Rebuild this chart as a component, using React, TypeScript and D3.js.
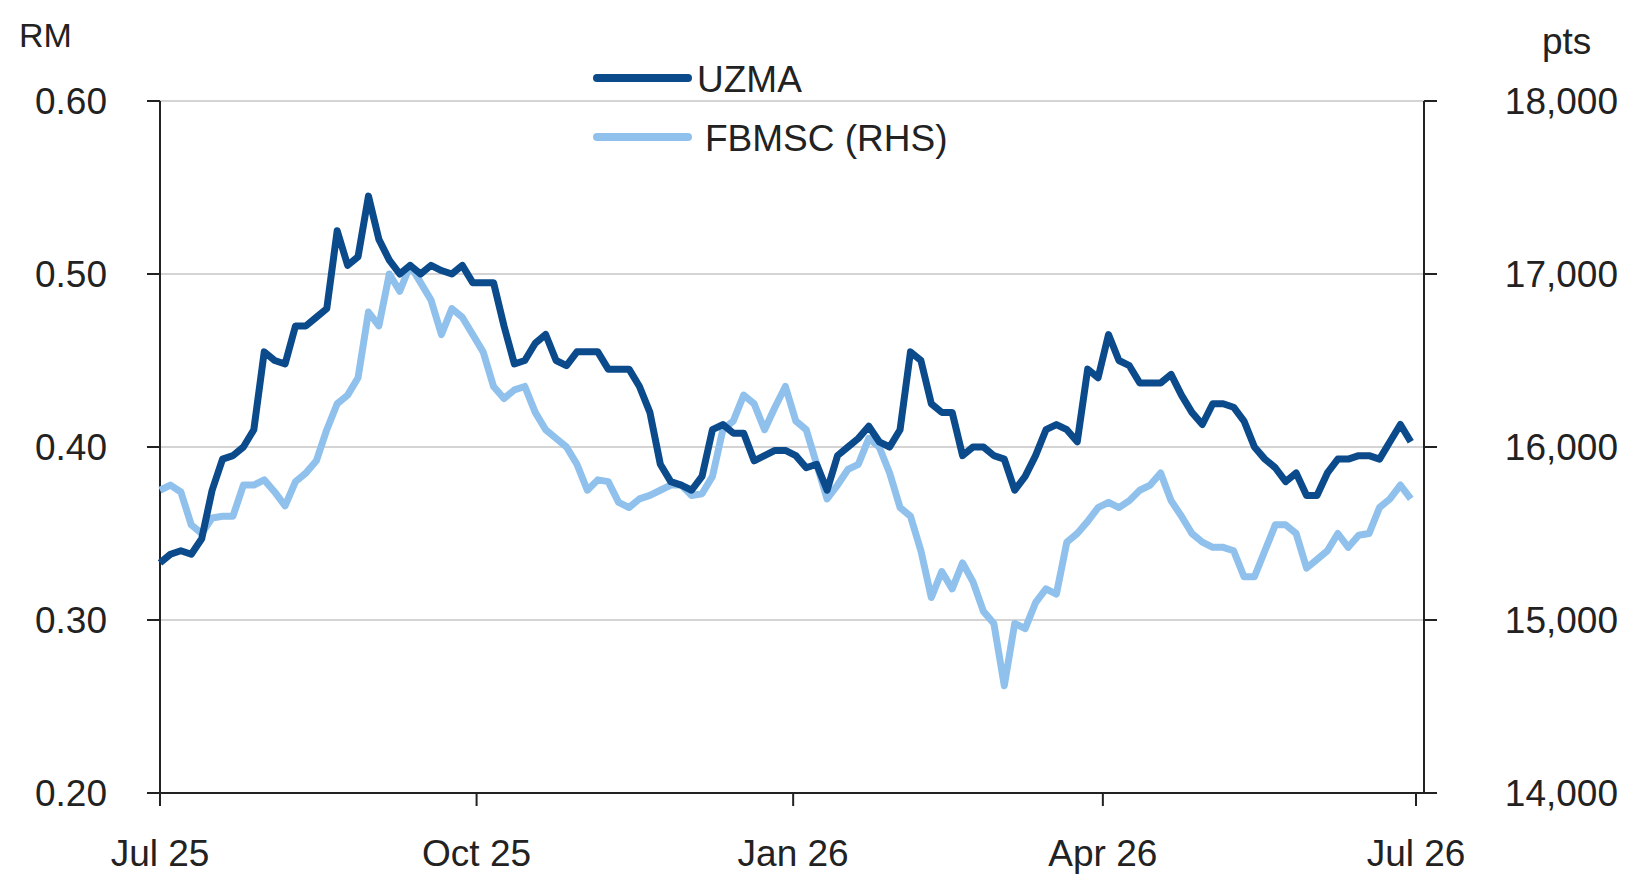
import React from "react";
import * as d3 from "d3";

const uzma = [.333,.338,.340,.338,.347,.375,.393,.395,.400,.410,.455,.450,.448,.470,.470,.475,.480,.525,.505,.510,.545,.520,.508,.500,.505,.500,.505,.502,.500,.505,.495,.495,.495,.470,.448,.450,.460,.465,.450,.447,.455,.455,.455,.445,.445,.445,.435,.420,.390,.380,.378,.375,.383,.410,.413,.408,.408,.392,.395,.398,.398,.395,.388,.390,.375,.395,.400,.405,.412,.403,.400,.410,.455,.450,.425,.420,.420,.395,.400,.400,.395,.393,.375,.383,.395,.410,.413,.410,.403,.445,.440,.465,.450,.447,.437,.437,.437,.442,.430,.420,.413,.425,.425,.423,.415,.400,.393,.388,.380,.385,.372,.372,.385,.393,.393,.395,.395,.393,.403,.413,.403];
const fbmsc = [15750,15780,15740,15550,15500,15590,15600,15600,15780,15780,15810,15740,15660,15800,15850,15920,16100,16250,16300,16400,16780,16700,17000,16900,17050,16950,16850,16650,16800,16750,16650,16550,16350,16280,16330,16350,16200,16100,16050,16000,15900,15750,15810,15800,15680,15650,15700,15720,15750,15780,15780,15720,15730,15830,16100,16150,16300,16250,16100,16230,16350,16150,16100,15900,15700,15780,15870,15900,16050,16000,15850,15650,15600,15400,15130,15280,15180,15330,15220,15050,14980,14620,14980,14950,15100,15180,15150,15450,15500,15570,15650,15680,15650,15690,15750,15780,15850,15690,15600,15500,15450,15420,15420,15400,15250,15250,15400,15550,15550,15500,15300,15350,15400,15500,15420,15490,15500,15650,15700,15780,15700];
const leftTicks = [0.2, 0.3, 0.4, 0.5, 0.6];
const rightTicks = [14000, 15000, 16000, 17000, 18000];
const xTickLabels = ["Jul 25", "Oct 25", "Jan 26", "Apr 26", "Jul 26"];
const xTickDates = [new Date(2025, 6, 1), new Date(2025, 9, 1), new Date(2026, 0, 1), new Date(2026, 3, 1), new Date(2026, 6, 1)];

const start = new Date(2025, 6, 1);
const stepDays = 365 * 10 / 1205;
const dateAt = (i: number) => new Date(start.getTime() + i * stepDays * 86400000);

export default function App() {
  const L = 160, R = 1424, T = 101, B = 793;
  const x = d3.scaleTime().domain([start, new Date(2026, 6, 1)]).range([L, 1416]);
  const yl = d3.scaleLinear().domain([0.2, 0.6]).range([B, T]);
  const yr = d3.scaleLinear().domain([14000, 18000]).range([B, T]);
  const lineL = d3.line<number>().x((_, i) => x(dateAt(i))).y(d => yl(d));
  const lineR = d3.line<number>().x((_, i) => x(dateAt(i))).y(d => yr(d));
  const font = "Liberation Sans, Arial, sans-serif";
  const dark = "#0b4a8b", light = "#8fc1ec";
  const fs = 37;
  return (
    <svg width={1632} height={887} style={{ position: "absolute", left: 0, top: 0, background: "#fff" }} fontFamily={font} fill="#222">
      {leftTicks.slice(1).map(t => <line key={t} x1={L} x2={R} y1={yl(t)} y2={yl(t)} stroke="#d4d4d4" strokeWidth={2} />)}
      <line x1={L} x2={L} y1={T} y2={B} stroke="#222" strokeWidth={2} />
      <line x1={R} x2={R} y1={T} y2={B} stroke="#222" strokeWidth={2} />
      <line x1={L} x2={R} y1={B} y2={B} stroke="#222" strokeWidth={2} />
      {leftTicks.map(t => <g key={t}>
        <line x1={L - 13} x2={L} y1={yl(t)} y2={yl(t)} stroke="#222" strokeWidth={2} />
        <text x={107} y={yl(t) + 13} fontSize={fs} textAnchor="end">{t.toFixed(2)}</text>
      </g>)}
      {rightTicks.map(t => <g key={t}>
        <line x1={R} x2={R + 13} y1={yr(t)} y2={yr(t)} stroke="#222" strokeWidth={2} />
        <text x={1618} y={yr(t) + 13} fontSize={fs} textAnchor="end">{d3.format(",")(t)}</text>
      </g>)}
      {xTickDates.map((d, i) => <g key={i}>
        <line x1={x(d)} x2={x(d)} y1={B} y2={B + 13} stroke="#222" strokeWidth={2} />
        <text x={x(d)} y={866} fontSize={fs} textAnchor="middle">{xTickLabels[i]}</text>
      </g>)}
      <text x={19} y={47} fontSize={34}>RM</text>
      <text x={1542} y={54} fontSize={fs}>pts</text>
      <path d={lineR(fbmsc) || ""} fill="none" stroke={light} strokeWidth={7} strokeLinejoin="round" />
      <path d={lineL(uzma) || ""} fill="none" stroke={dark} strokeWidth={7} strokeLinejoin="round" />
      <line x1={597} x2={688} y1={78} y2={78} stroke={dark} strokeWidth={8} strokeLinecap="round" />
      <text x={697} y={92} fontSize={fs}>UZMA</text>
      <line x1={597} x2={688} y1={137} y2={137} stroke={light} strokeWidth={8} strokeLinecap="round" />
      <text x={705} y={151} fontSize={fs}>FBMSC (RHS)</text>
    </svg>
  );
}
